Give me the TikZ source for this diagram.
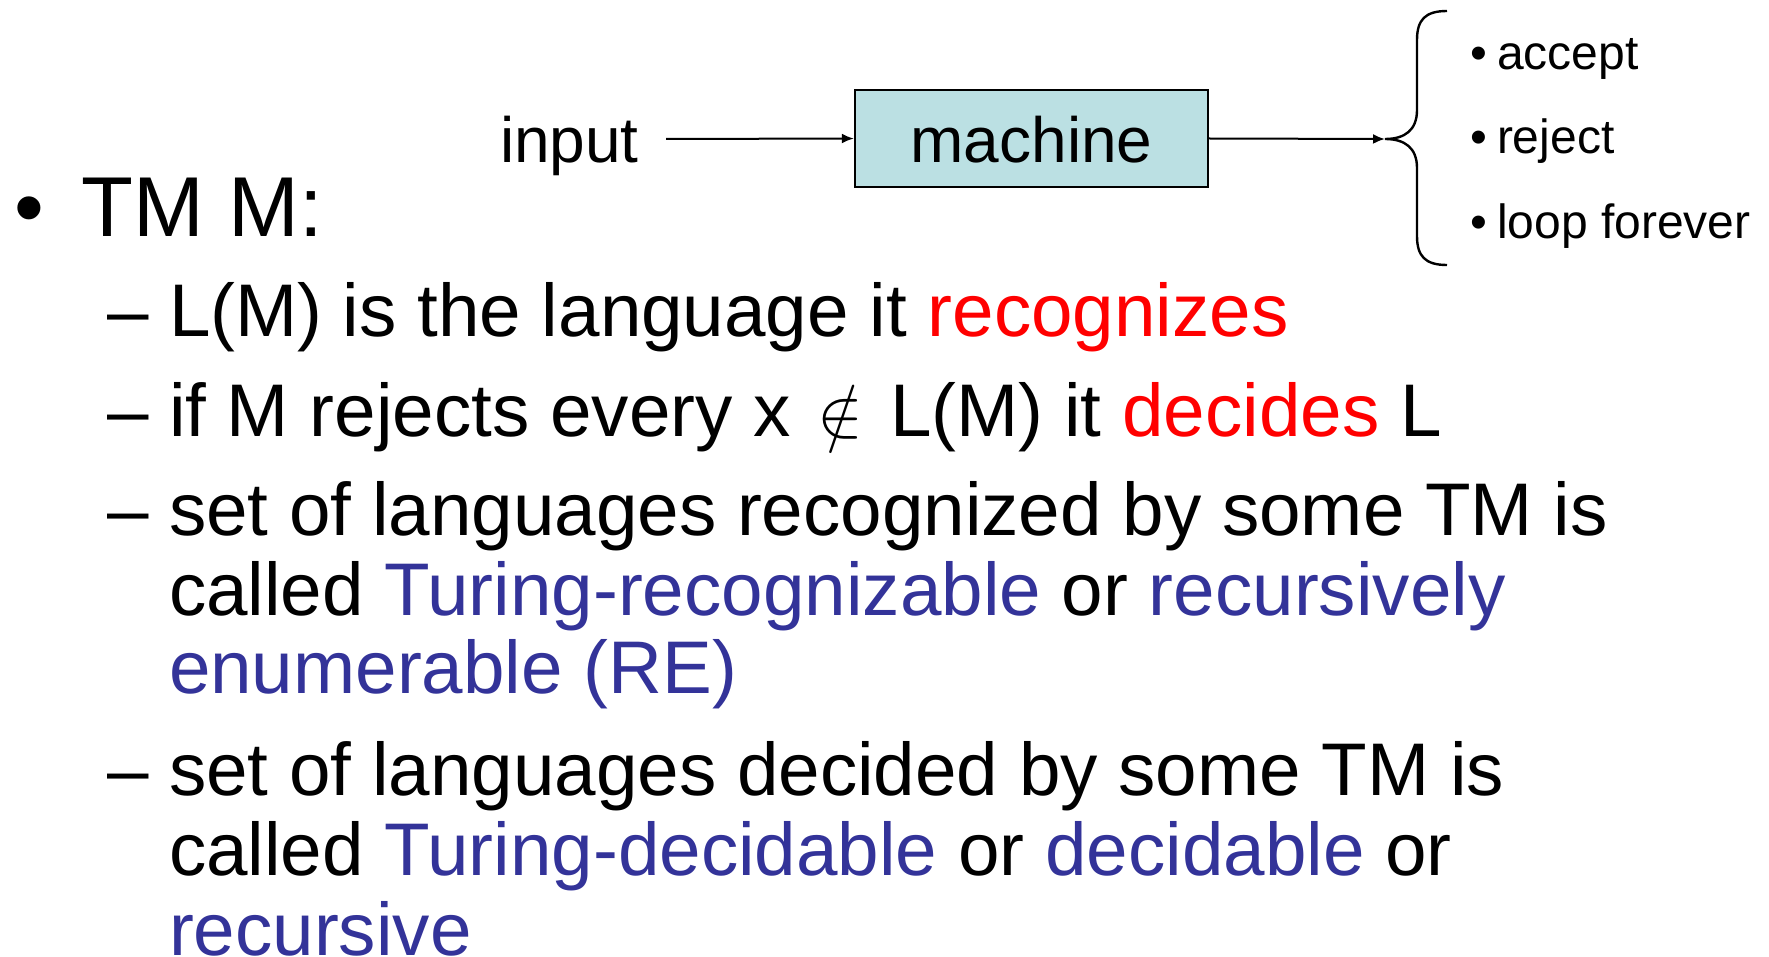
\documentclass[tikz,border=0pt]{standalone}
\usepackage{fontspec}
\setmainfont{Liberation Sans}
\usetikzlibrary{arrows.meta}
\definecolor{boxfill}{RGB}{187,224,227}
\definecolor{termblue}{RGB}{51,51,153}
\definecolor{termred}{RGB}{255,0,0}
\newcommand{\red}[1]{\textcolor{termred}{#1}}
\newcommand{\blu}[1]{\textcolor{termblue}{#1}}
\tikzset{
  txt/.style={anchor=base west, inner sep=0pt, outer sep=0pt},
  top/.style={txt, font=\fontsize{42.5}{50}\selectfont},
  sub/.style={txt, font=\fontsize{37.3}{45}\selectfont},
  diag/.style={font=\fontsize{32}{38}\selectfont},
  small/.style={txt, font=\fontsize{24}{29}\selectfont},
  conn/.style={line width=1pt, -{Latex[length=6pt,width=5pt]}},
  machbox/.style={draw, line width=1.2pt, fill=boxfill, minimum width=176.5pt, minimum height=48.5pt, inner sep=0pt}
}
\begin{document}
\begin{tikzpicture}[x=0.5pt, y=-0.5pt]
\useasboundingbox (0,0) rectangle (1769,957);
% diagram
\node[txt, diag] (input) at (500,163) {input};
\node[machbox, diag] (machine) at (1031.5,138.5) {};
\node[txt, diag, anchor=base] (machtxt) at (1031.5,163) {machine};
\coordinate (instart) at (666,139);
\coordinate (tip) at (1385,139);
\draw[conn] (instart) -- (machine.west);
\draw[conn] (machine.east) -- (tip);
\draw[line width=1.2pt] (1447,11) .. controls (1425,11) and (1417,20) .. (1417,40)
  -- (1417,110) .. controls (1417,130) and (1405,139) .. (tip)
  .. controls (1405,139) and (1417,148) .. (1417,168)
  -- (1417,236) .. controls (1417,256) and (1425,265) .. (1447,265);
\node[small] (b1) at (1470,70) {•};
\node[small] (o1) at (1497,70) {accept};
\node[small] (b2) at (1470,154) {•};
\node[small] (o2) at (1497,154) {reject};
\node[small] (b3) at (1470,239) {•};
\node[small] (o3) at (1497,239) {loop forever};
% bullets
\node[top] (bul) at (14,237) {•};
\node[top] (tm) at (82,237) {TM M:};
\node[sub] (d1) at (107,337) {–};
\node[sub] (l1) at (169,337) {L(M) is the language it \red{recognizes}};
\node[sub] (d2) at (107,437) {–};
\node[sub] (l2) at (169,437) {if M rejects every x\hspace{0.36em}\scalebox{1.38}{$\notin$}\hspace{0.36em}L(M) it \red{decides} L};
\node[sub] (d3) at (107,535) {–};
\node[sub] (l3) at (169,535) {set of languages recognized by some TM is};
\node[sub] (l4) at (169,615) {called \blu{Turing-recognizable} or \blu{recursively}};
\node[sub] (l5) at (169,693) {\blu{enumerable (RE)}};
\node[sub] (d4) at (107,795) {–};
\node[sub] (l6) at (169,795) {set of languages decided by some TM is};
\node[sub] (l7) at (169,875) {called \blu{Turing-decidable} or \blu{decidable} or};
\node[sub] (l8) at (169,955) {\blu{recursive}};
\end{tikzpicture}
\end{document}
